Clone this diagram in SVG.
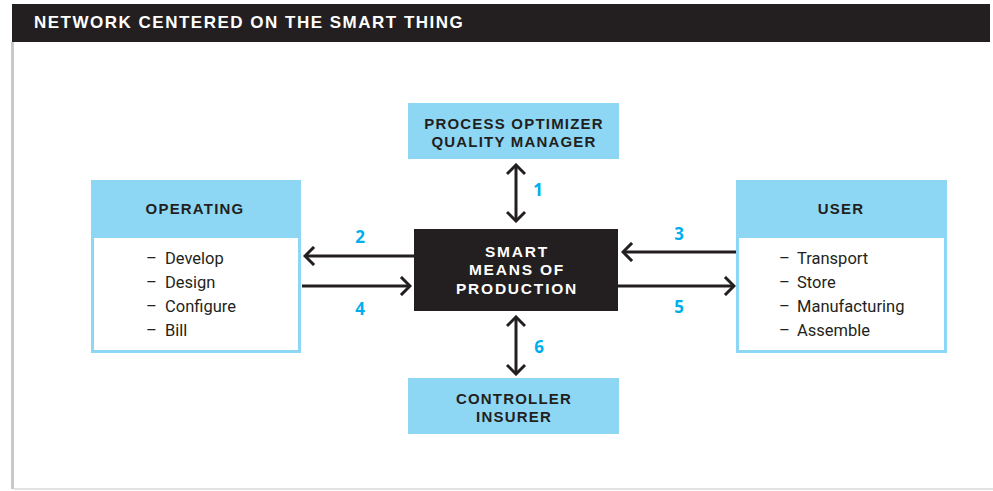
<svg xmlns="http://www.w3.org/2000/svg" width="993" height="491" viewBox="0 0 993 491">
<style>
.hdr{fill:#8dd7f5}
.body{fill:#fff;stroke:#8dd7f5;stroke-width:3}
.bt{font-family:"Liberation Sans",Arial,sans-serif;font-weight:700;font-size:15px;fill:#231f20;letter-spacing:1.2px;text-anchor:middle}
.wt{font-family:"Liberation Sans",Arial,sans-serif;font-weight:700;font-size:15.5px;fill:#fff;letter-spacing:1.8px;text-anchor:middle}
.it{font-family:"Roboto","Noto Sans",sans-serif;font-size:16.5px;fill:#231f20}
.num{font-family:"Noto Sans","Open Sans",sans-serif;font-weight:700;font-size:17px;fill:#00aeef;text-anchor:middle}
.ln{stroke:#231f20;stroke-width:3;fill:none}
</style>
<defs>
<marker id="ah" markerUnits="userSpaceOnUse" markerWidth="14" markerHeight="20" viewBox="-12 -10 14 20" refX="0" refY="0" orient="auto-start-reverse">
<path d="M-8,-8 L0,0 L-8,8" fill="none" stroke="#231f20" stroke-width="3" stroke-linecap="square"/>
</marker>
</defs>
<rect width="993" height="491" fill="#fff"/>
<g id="frame">
<rect x="12" y="4" width="978" height="38" fill="#231f20"/>
<text x="34" y="28" font-family="Liberation Sans, Arial, sans-serif" font-weight="700" font-size="17" fill="#fff" letter-spacing="1.5">NETWORK CENTERED ON THE SMART THING</text>
<rect x="11" y="42" width="3" height="447" fill="#c8c8c8"/>
<rect x="14" y="488" width="979" height="2" fill="#e2e2e2"/>
</g>
<g id="connectors">
<line class="ln" x1="516" y1="165" x2="516" y2="221" marker-start="url(#ah)" marker-end="url(#ah)"/>
<line class="ln" x1="414" y1="256" x2="305" y2="256" marker-end="url(#ah)"/>
<line class="ln" x1="302" y1="286" x2="410" y2="286" marker-end="url(#ah)"/>
<line class="ln" x1="736" y1="252" x2="623" y2="252" marker-end="url(#ah)"/>
<line class="ln" x1="618" y1="286" x2="734" y2="286" marker-end="url(#ah)"/>
<line class="ln" x1="516" y1="317" x2="516" y2="374" marker-start="url(#ah)" marker-end="url(#ah)"/>
<text class="num" x="538" y="196">1</text>
<text class="num" x="360" y="243">2</text>
<text class="num" x="679" y="240">3</text>
<text class="num" x="360" y="315">4</text>
<text class="num" x="679" y="313">5</text>
<text class="num" x="539" y="353">6</text>
</g>
<g id="top">
<rect class="hdr" x="408" y="103" width="211" height="56"/>
<text class="bt" x="514" y="129">PROCESS OPTIMIZER</text>
<text class="bt" x="514" y="147">QUALITY MANAGER</text>
</g>
<g id="operating">
<rect class="body" x="92.5" y="236.5" width="207" height="115"/>
<rect class="hdr" x="91" y="180" width="210" height="58"/>
<text class="bt" x="195" y="214">OPERATING</text>
<text class="it" y="264"><tspan x="146">–</tspan><tspan x="165">Develop</tspan></text>
<text class="it" y="288"><tspan x="146">–</tspan><tspan x="165">Design</tspan></text>
<text class="it" y="312"><tspan x="146">–</tspan><tspan x="165">Configure</tspan></text>
<text class="it" y="336"><tspan x="146">–</tspan><tspan x="165">Bill</tspan></text>
</g>
<g id="user">
<rect class="body" x="737.5" y="236.5" width="208" height="115"/>
<rect class="hdr" x="736" y="180" width="211" height="58"/>
<text class="bt" x="841" y="214">USER</text>
<text class="it" y="264"><tspan x="779">–</tspan><tspan x="797">Transport</tspan></text>
<text class="it" y="288"><tspan x="779">–</tspan><tspan x="797">Store</tspan></text>
<text class="it" y="312"><tspan x="779">–</tspan><tspan x="797">Manufacturing</tspan></text>
<text class="it" y="336"><tspan x="779">–</tspan><tspan x="797">Assemble</tspan></text>
</g>
<g id="center">
<rect x="414" y="229" width="204" height="82" fill="#231f20"/>
<text class="wt" x="517" y="257">SMART</text>
<text class="wt" x="517" y="275">MEANS OF</text>
<text class="wt" x="517" y="294">PRODUCTION</text>
</g>
<g id="bottom">
<rect class="hdr" x="408" y="378" width="211" height="56"/>
<text class="bt" x="514" y="404">CONTROLLER</text>
<text class="bt" x="514" y="422">INSURER</text>
</g>
</svg>
